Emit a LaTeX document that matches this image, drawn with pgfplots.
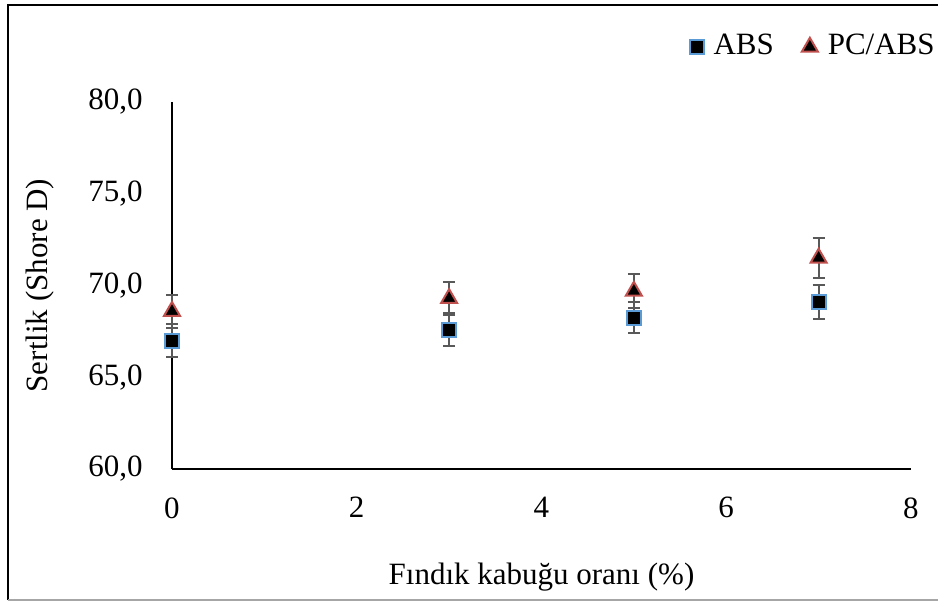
\documentclass[border=0pt]{standalone}
\usepackage{pgfplots}
\pgfplotsset{compat=1.18}
\usepackage{pgfplotstable}
\usepackage{fontspec}
\setmainfont{Liberation Serif}
\definecolor{absblue}{HTML}{5B9BD5}
\definecolor{pcred}{HTML}{C0504D}
\definecolor{errgray}{HTML}{595959}
\pgfplotstableread{
x y e
0 67.0 0.9
3 67.6 0.9
5 68.25 0.85
7 69.1 0.95
}\absdata
\pgfplotstableread{
x y e
0 68.6 0.9
3 69.3 0.9
5 69.7 0.9
7 71.5 1.1
}\pcdata
\begin{document}
\fontsize{15.5}{18}\selectfont
\begin{tikzpicture}
\useasboundingbox (0,0) rectangle (469pt,301pt);
\draw[black, line width=1pt] (4pt,1pt) -- (4pt,298.5pt) -- (469pt,298.5pt);
\draw[gray!70, line width=0.8pt] (4pt,1pt) -- (469pt,1pt);
\begin{axis}[
  at={(86pt,66.5pt)}, anchor=south west,
  scale only axis, width=369.5pt, height=183.5pt,
  xmin=0, xmax=8, ymin=60, ymax=80,
  xtick={0,2,4,6,8}, ytick={60,65,70,75,80},
  axis x line*=bottom, axis y line*=left,
  axis line style={black, line width=0.9pt, -},
  major tick length=0pt,
  tick style={draw=none},
  /pgf/number format/assume math mode=true,
  yticklabel={\pgfmathprintnumber[fixed,fixed zerofill,precision=1,use comma]{\tick}},
  xticklabel={\pgfmathprintnumber{\tick}},
  yticklabel style={anchor=east, inner sep=0pt, xshift=-14.5pt},
  xticklabel style={anchor=north, inner sep=0pt, yshift=-14pt},
  xlabel={Fındık kabuğu oranı (\%)},
  ylabel={Sertlik (Shore D)},
  every axis x label/.style={at={(axis description cs:0.5,-0.294)}, anchor=center},
  every axis y label/.style={at={(axis description cs:-0.1786,0.5)}, anchor=center, rotate=90},
  legend columns=2,
  legend style={draw=none, fill=none, inner sep=0pt, at={(axis description cs:1.038,1.15)}, anchor=east,
    /tikz/every odd column/.append style={column sep=3pt},
    /tikz/every even column/.append style={column sep=12pt}},
  legend image code/.code={\draw[mark repeat=2,mark phase=2,#1] plot coordinates {(0pt,0pt)(3.5pt,0pt)(7pt,0pt)};},
  clip=false,
]
\addplot[only marks, mark=square*, mark size=3.5pt, mark options={fill=black, draw=absblue, line width=1pt},
  error bars/.cd, y dir=both, y explicit,
  error bar style={errgray, line width=1pt},
  error mark options={rotate=90, mark size=3pt, errgray, line width=1pt}]
  table[x=x, y=y, y error=e] {\absdata};
\addlegendentry{ABS}
\addplot[only marks, mark=triangle*, mark size=4.6pt, mark options={fill=black, draw=pcred, line width=1pt},
  error bars/.cd, y dir=both, y explicit,
  error bar style={errgray, line width=1pt},
  error mark options={rotate=90, mark size=3pt, errgray, line width=1pt}]
  table[x=x, y=y, y error=e] {\pcdata};
\addlegendentry{PC/ABS}
\end{axis}
\end{tikzpicture}
\end{document}
